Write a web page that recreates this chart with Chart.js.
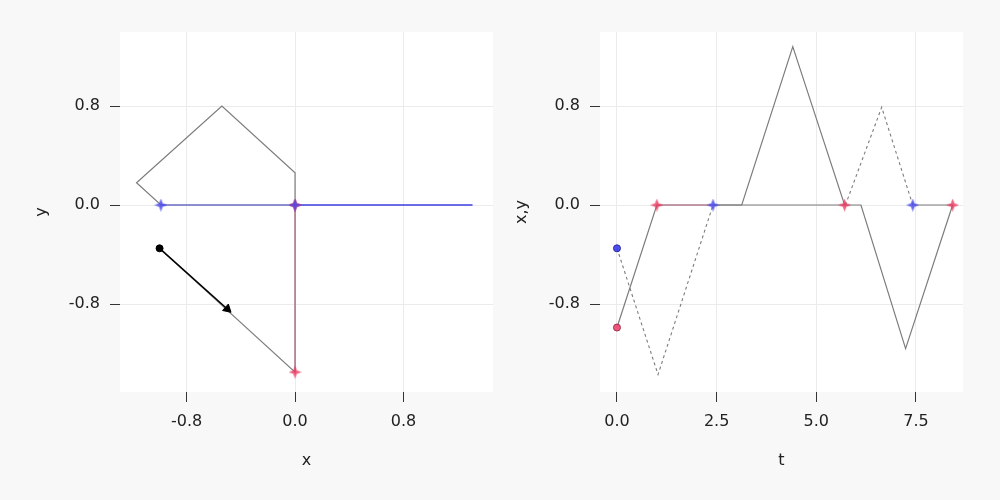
<!DOCTYPE html>
<html><head><meta charset="utf-8">
<script src="https://cdn.jsdelivr.net/npm/chart.js@4/dist/chart.umd.min.js"></script>
<style>
html,body{margin:0;padding:0;background:#f8f8f8;}
#wrap{position:relative;width:1000px;height:500px;background:#f8f8f8;}
.c{position:absolute;top:0;width:500px;height:500px;}
</style></head><body>
<div id="wrap">
<div class="c" style="left:0"><canvas id="left" width="500" height="500"></canvas></div>
<div class="c" style="left:500px"><canvas id="right" width="500" height="500"></canvas></div>
</div>
<script>
// ---------- data ----------
const xyTicks = [-0.8, 0.0, 0.8];
const tTicks = [0.0, 2.5, 5.0, 7.5];

// left panel: trajectory in the (x, y) plane
const pathX = [-1.0, 0.0, 0.0, 0.0, -0.54, -1.17, -0.99, 0.0];
const pathY = [-0.35, -1.35, 0.0, 0.26, 0.80, 0.18, 0.0, 0.0];
const redSegX = [0.0, 0.0];
const redSegY = [-1.35, 0.0];
const blueSegAX = [-0.99, 0.0];
const blueSegAY = [0.0, 0.0];
const blueSegBX = [0.0, 1.31];
const blueSegBY = [0.0, 0.0];
const arrowX = [-1.0, -0.5];
const arrowY = [-0.35, -0.84];
const leftRedStarX = [0.0, 0.0, 0.0];
const leftRedStarY = [-1.35, 0.0, 0.0];
const leftBlueStarX = [0.0, -0.99];
const leftBlueStarY = [0.0, 0.0];

// right panel: x(t) solid
const tX = [0.0, 1.0, 3.13, 4.41, 5.71, 6.12, 7.24, 8.42];
const xVals = [-0.99, 0.0, 0.0, 1.28, 0.0, 0.0, -1.16, 0.0];
// y(t): dashed while moving, solid while resting at 0
const tYa = [0.0, 1.03, 2.41];
const yValsA = [-0.35, -1.37, 0.0];
const tYb = [2.41, 5.73];
const yValsB = [0.0, 0.0];
const tYc = [5.73, 6.64, 7.42];
const yValsC = [0.0, 0.79, 0.0];
const tYd = [7.42, 8.42];
const yValsD = [0.0, 0.0];
const rightRedSegT = [1.0, 2.41];
const rightRedSegV = [0.0, 0.0];
const redStarT = [1.0, 5.71, 8.42];
const redStarV = [0.0, 0.0, 0.0];
const blueStarT = [2.41, 7.42];
const blueStarV = [0.0, 0.0];
const startT = [0.0];
const startX = [-0.99];
const startY = [-0.35];

// ---------- helpers ----------
const pts = (xs, ys) => xs.map((x, i) => ({x: x, y: ys[i]}));
function starImg(color) {
  const c = document.createElement('canvas');
  c.width = 13; c.height = 13;
  const g = c.getContext('2d');
  const m = 6.5, s = 1.8;
  g.fillStyle = color;
  g.beginPath();
  g.moveTo(m, 0); g.lineTo(m + s, m - s); g.lineTo(13, m); g.lineTo(m + s, m + s);
  g.lineTo(m, 13); g.lineTo(m - s, m + s); g.lineTo(0, m); g.lineTo(m - s, m - s);
  g.closePath(); g.fill();
  return c;
}
const redStar = starImg('rgba(235,55,95,0.8)');
const blueStar = starImg('rgba(75,75,235,0.85)');

const FONT = {family: 'DejaVu Sans', size: 16};
const GRAY = '#7c7c7c';
const bgPlugin = {
  id: 'bg',
  beforeDraw(chart) {
    const a = chart.chartArea, ctx = chart.ctx;
    ctx.save(); ctx.fillStyle = '#ffffff';
    ctx.fillRect(a.left, a.top, a.right - a.left, a.bottom - a.top);
    ctx.restore();
  }
};
function axis(opts) {
  return Object.assign({
    type: 'linear',
    border: {display: false},
    grid: {color: '#ebebeb', lineWidth: 1, tickColor: '#333', tickLength: 10, drawTicks: true},
    ticks: {font: FONT, color: '#222', padding: 10, callback: v => Number(v).toFixed(1)},
  }, opts);
}
function lineDS(data, color, width, order, extra) {
  return Object.assign({data: data, showLine: true, borderColor: color, borderWidth: width,
    pointRadius: 0, pointHoverRadius: 0, fill: false, order: order, tension: 0}, extra || {});
}
function starDS(data, img, order) {
  return {data: data, showLine: false, pointStyle: img, pointRadius: 6, order: order,
    backgroundColor: 'transparent', borderColor: 'transparent'};
}
const common = {
  responsive: false, animation: false, devicePixelRatio: 1,
  plugins: {legend: {display: false}, tooltip: {enabled: false}},
  events: []
};

// ---------- left chart ----------
new Chart(document.getElementById('left'), {
  type: 'scatter',
  data: {datasets: [
    starDS(pts(leftBlueStarX, leftBlueStarY), blueStar, 0),
    starDS(pts(leftRedStarX, leftRedStarY), redStar, 1),
    {data: pts(arrowX.slice(0, 1), arrowY.slice(0, 1)), pointStyle: 'circle', pointRadius: 3.5,
      backgroundColor: '#000', borderColor: '#000', order: 2},
    {data: pts(arrowX.slice(1), arrowY.slice(1)), pointStyle: 'triangle', pointRadius: 5,
      rotation: 132, backgroundColor: '#000', borderColor: '#000', borderWidth: 1, order: 3},
    lineDS(pts(arrowX, arrowY), '#000', 1.5, 4),
    lineDS(pts(blueSegBX, blueSegBY), 'rgba(40,40,225,0.9)', 1.6, 5),
    lineDS(pts(blueSegAX, blueSegAY), 'rgba(90,90,235,0.6)', 1.6, 6),
    lineDS(pts(redSegX, redSegY), 'rgba(215,90,130,0.45)', 1.6, 7),
    lineDS(pts(pathX, pathY), GRAY, 1.2, 10)
  ]},
  options: Object.assign({}, common, {
    layout: {padding: {left: 0, top: 32, right: 5, bottom: 0}},
    scales: {
      x: axis({min: -1.292, max: 1.461, position: 'bottom',
        afterBuildTicks: s => { s.ticks = xyTicks.map(v => ({value: v})); },
        afterFit: s => { s.height = 108; },
        title: {display: true, text: 'x', font: FONT, color: '#222', padding: {top: 0, bottom: 30}}}),
      y: axis({min: -1.511, max: 1.398, position: 'left',
        afterBuildTicks: s => { s.ticks = xyTicks.map(v => ({value: v})); },
        afterFit: s => { s.width = 120; },
        title: {display: true, text: 'y', font: FONT, color: '#222', padding: {top: 32, bottom: 0}}})
    }
  }),
  plugins: [bgPlugin]
});

// ---------- right chart ----------
new Chart(document.getElementById('right'), {
  type: 'scatter',
  data: {datasets: [
    starDS(pts(blueStarT, blueStarV), blueStar, 0),
    starDS(pts(redStarT, redStarV), redStar, 1),
    {data: pts(startT, startY), pointStyle: 'circle', pointRadius: 3.5,
      backgroundColor: 'rgba(60,60,235,0.9)', borderColor: '#2a2aa0', borderWidth: 1, order: 2},
    {data: pts(startT, startX), pointStyle: 'circle', pointRadius: 3.5,
      backgroundColor: 'rgba(240,70,110,0.9)', borderColor: '#a03050', borderWidth: 1, order: 3},
    lineDS(pts(rightRedSegT, rightRedSegV), 'rgba(215,90,130,0.45)', 1.6, 4),
    lineDS(pts(tYa, yValsA), GRAY, 1.1, 5, {borderDash: [3, 3]}),
    lineDS(pts(tYc, yValsC), GRAY, 1.1, 5, {borderDash: [3, 3]}),
    lineDS(pts(tYb, yValsB), GRAY, 1.2, 5),
    lineDS(pts(tYd, yValsD), GRAY, 1.2, 5),
    lineDS(pts(tX, xVals), GRAY, 1.2, 6)
  ]},
  options: Object.assign({}, common, {
    layout: {padding: {left: 0, top: 32, right: 37, bottom: 0}},
    scales: {
      x: axis({min: -0.426, max: 8.68, position: 'bottom',
        afterBuildTicks: s => { s.ticks = tTicks.map(v => ({value: v})); },
        afterFit: s => { s.height = 108; },
        title: {display: true, text: 't', font: FONT, color: '#222', padding: {top: 0, bottom: 30}}}),
      y: axis({min: -1.511, max: 1.398, position: 'left',
        afterBuildTicks: s => { s.ticks = xyTicks.map(v => ({value: v})); },
        afterFit: s => { s.width = 100; },
        title: {display: true, text: 'x,y', font: FONT, color: '#222', padding: {top: 12, bottom: 0}}})
    }
  }),
  plugins: [bgPlugin]
});
</script>
</body></html>
